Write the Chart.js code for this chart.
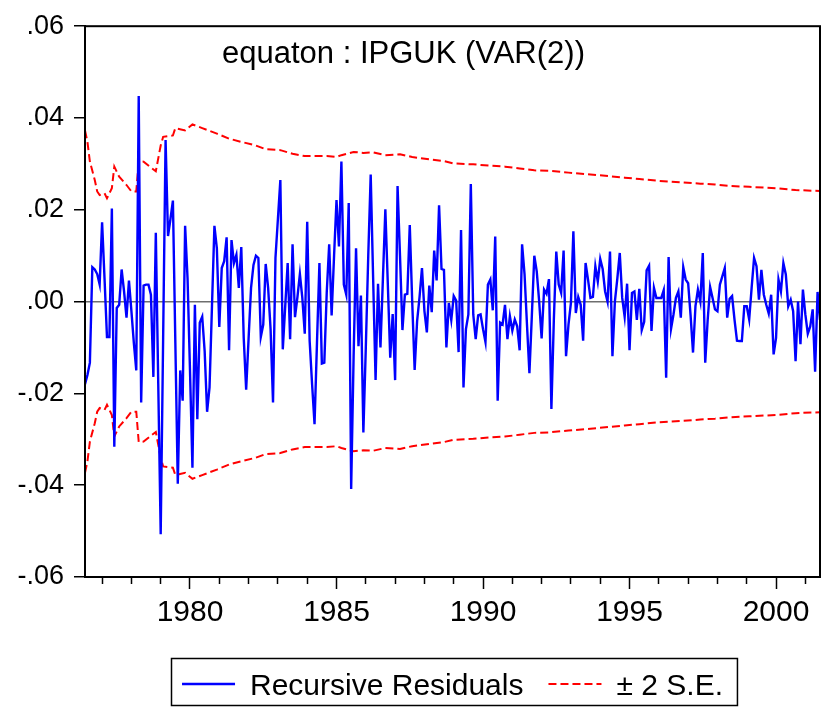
<!DOCTYPE html>
<html>
<head>
<meta charset="utf-8">
<script src="https://cdn.jsdelivr.net/npm/chart.js@4.4.0/dist/chart.umd.min.js"></script>
<style>
  html, body { margin: 0; padding: 0; background: #fff; }
</style>
</head>
<body>
<canvas id="resChart" width="822" height="707"></canvas>
<script>
const FONT = '"Liberation Sans", Arial, Helvetica, sans-serif'

const titleText = 'equaton : IPGUK (VAR(2))'
const startYear = 1976
const startMonth = 6

// recursive residuals, monthly from 1976M06
const residuals = [
  -0.018, -0.016, -0.0133, 0.0075, 0.007, 0.006, 0.0037, 0.0173, 0.005, -0.0077, -0.0077, 0.0203,
  -0.0316, -0.0014, -0.0007, 0.007, 0.0022, -0.0035, 0.0046, -0.002, -0.009, -0.015, 0.0448, -0.022,
  0.0035, 0.0037, 0.0037, 0.0015, -0.0164, 0.015, -0.018, -0.0507, -0.008, 0.0352, 0.0143, 0.018,
  0.022, -0.009, -0.0397, -0.015, -0.0216, 0.0165, 0.005, -0.015, -0.0362, -0.0007, -0.0256, -0.0046,
  -0.0033, -0.0108, -0.024, -0.0187, -0.001, 0.0165, 0.0116, -0.0055, 0.0073, 0.0088, 0.014, -0.0106,
  0.0134, 0.0084, 0.0102, 0.003, 0.0119, -0.0079, -0.0192, -0.008, 0.003, 0.008, 0.01, 0.0095,
  -0.0077, -0.005, 0.0082, 0.003, -0.006, -0.022, 0.0095, 0.018, 0.0265, -0.0104, -0.001, 0.0084,
  -0.0082, 0.0125, -0.0034, 0.001, 0.006, 0.0008, -0.007, 0.0174, -0.0086, -0.018, -0.0267, -0.009,
  0.0084, -0.0135, -0.0133, 0.002, 0.0125, -0.003, 0.01, 0.0221, 0.012, 0.0305, 0.0037, 0.0015,
  0.0215, -0.0408, -0.012, 0.0116, -0.0097, 0.0013, -0.0285, -0.01, 0.01, 0.0277, 0.005, -0.0171,
  0.0039, -0.01, 0.005, 0.0201, 0.004, -0.0122, -0.0027, -0.0171, 0.0252, 0.01, -0.0062, 0.0015,
  0.0017, 0.0167, 0.0, -0.0149, -0.0043, 0.001, 0.0073, -0.002, -0.0067, 0.0035, -0.0023, 0.0111,
  0.0046, 0.021, 0.0071, 0.0069, -0.01, -0.0003, -0.004, 0.0012, 0.0002, -0.011, 0.0156, -0.0187,
  -0.006, -0.0028, 0.0256, -0.0028, -0.0082, -0.003, -0.0028, -0.006, -0.0088, 0.0037, 0.0048, -0.0019,
  0.0142, -0.0216, -0.0046, -0.005, -0.0007, -0.0082, -0.0032, -0.0063, -0.0039, -0.0054, -0.0106, 0.0125,
  0.006, -0.005, -0.0156, -0.003, 0.01, 0.0066, 0.0, -0.008, 0.0026, 0.0017, 0.0049, -0.0234,
  -0.004, 0.0109, 0.0037, 0.0019, 0.0111, -0.0119, -0.005, -0.0003, 0.0153, -0.0025, 0.001, -0.0007,
  -0.0085, 0.0084, 0.0048, 0.0008, 0.001, 0.0077, 0.0044, 0.0093, 0.0071, 0.0022, 0.0, 0.0109,
  -0.0119, 0.0, 0.005, 0.0106, 0.0008, -0.0033, 0.0039, -0.0106, 0.0019, 0.0022, -0.004, 0.0028,
  -0.0062, -0.0044, 0.0068, 0.0078, -0.0064, 0.003, 0.0008, 0.0008, 0.0008, 0.0025, -0.0166, 0.0097,
  -0.0059, -0.0028, 0.0008, 0.0022, -0.0035, 0.0075, 0.0048, 0.004, -0.003, -0.0111, -0.001, 0.0026,
  0.0, 0.0106, -0.0133, -0.004, 0.0032, 0.0008, -0.0017, -0.0021, 0.0037, 0.0055, 0.0073, -0.0035,
  0.0006, 0.0012, -0.004, -0.0085, -0.0086, -0.0086, -0.001, -0.001, -0.0039, 0.003, 0.0095, 0.0077,
  0.0004, 0.0069, 0.0015, -0.0007, -0.0026, 0.0015, -0.0115, -0.0079, 0.0048, 0.0022, 0.0084, 0.0059,
  -0.001, 0.0004, -0.0021, -0.013, 0.0, -0.0093, 0.0026, -0.0028, -0.007, -0.0054, -0.0017, -0.0153,
  0.0021, -0.004,
]

// 2 S.E. band, read at these month offsets from the start
const seMonths = [
  0, 1, 2, 4, 5, 6, 8, 9, 11, 12, 14, 17, 19, 21, 22, 24, 27, 29, 31, 32, 36, 37, 41, 44, 48,
  54, 59, 64, 70, 74, 80, 85, 90, 99, 103, 105, 110, 114, 118, 123, 129, 134, 141, 147, 151,
  159, 166, 172, 178, 184, 190, 198, 207, 215, 221, 227, 235, 244, 252, 258, 264, 272, 283, 291, 301,
]
const seValues = [
  0.0373, 0.0348, 0.0305, 0.0265, 0.024, 0.0232, 0.0236, 0.0225, 0.0247, 0.0294, 0.0272, 0.0254,
  0.024, 0.024, 0.0306, 0.0305, 0.0292, 0.0284, 0.034, 0.0359, 0.0362, 0.0378, 0.0373, 0.0386, 0.0378,
  0.0366, 0.0355, 0.0348, 0.034, 0.0332, 0.033, 0.0322, 0.0317, 0.0317, 0.0315, 0.0319, 0.0326,
  0.0324, 0.0325, 0.0319, 0.0321, 0.0315, 0.031, 0.0306, 0.0301, 0.0299, 0.0296, 0.0294, 0.029,
  0.0286, 0.0285, 0.0281, 0.0277, 0.0273, 0.027, 0.0267, 0.0263, 0.026, 0.0257, 0.0255, 0.0252,
  0.025, 0.0247, 0.0243, 0.0241,
]

const xLabelYears = [1980, 1985, 1990, 1995, 2000]
const yLabels = ['-.06', '-.04', '-.02', '.00', '.02', '.04', '.06']

function monthX(i) {
  return startYear + (startMonth - 1 + i) / 12
}

function isLabelYear(v) {
  const r = Math.round(v)
  return Math.abs(v - r) < 1e-6 && xLabelYears.includes(r)
}

const frameAndText = {
  id: 'frameAndText',
  afterDatasetsDraw(chart) {
    const { ctx, chartArea: a } = chart
    ctx.save()
    ctx.strokeStyle = '#000'
    ctx.lineWidth = 2
    ctx.strokeRect(a.left, a.top, a.right - a.left, a.bottom - a.top)
    ctx.fillStyle = '#000'
    ctx.font = '31px ' + FONT
    ctx.textAlign = 'left'
    ctx.textBaseline = 'alphabetic'
    ctx.fillText(titleText, a.left + 137, a.top + 37)
    ctx.restore()
  },
  afterDraw(chart) {
    // boxed legend under the axis
    const { ctx, chartArea: a } = chart
    const items = chart.data.datasets.filter((d) => d.label)
    ctx.save()
    ctx.font = '30px ' + FONT
    const lineLen = 53
    const textGap = 15
    const itemGap = 25
    const widths = items.map((d) => ctx.measureText(d.label).width)
    let total = itemGap * (items.length - 1)
    widths.forEach((w) => (total += lineLen + textGap + w))
    let x = (a.left + a.right) / 2 - total / 2
    const lineY = chart.height - 23
    const baseY = chart.height - 12.5
    ctx.strokeStyle = '#000'
    ctx.lineWidth = 1.5
    ctx.strokeRect(Math.round(x - 11) + 0.5, chart.height - 48.5, total + 25, 47)
    items.forEach((d, k) => {
      ctx.beginPath()
      ctx.strokeStyle = d.borderColor
      ctx.lineWidth = d.borderWidth
      ctx.setLineDash(d.borderDash || [])
      ctx.moveTo(x, lineY)
      ctx.lineTo(x + lineLen, lineY)
      ctx.stroke()
      ctx.setLineDash([])
      ctx.fillStyle = '#000'
      ctx.textBaseline = 'alphabetic'
      ctx.fillText(d.label, x + lineLen + textGap, baseY)
      x += lineLen + textGap + widths[k] + itemGap
    })
    ctx.restore()
  },
}

new Chart(document.getElementById('resChart').getContext('2d'), {
  type: 'line',
  data: {
    datasets: [
      {
        label: 'Recursive Residuals',
        data: residuals.map((v, i) => ({ x: monthX(i), y: v })),
        borderColor: '#0000ff',
        borderWidth: 2.4,
        pointRadius: 0,
        fill: false,
      },
      {
        label: '\u00b1 2 S.E.',
        data: seMonths.map((m, k) => ({ x: monthX(m), y: seValues[k] })),
        borderColor: '#ff0000',
        borderWidth: 2,
        borderDash: [8, 4],
        pointRadius: 0,
        fill: false,
      },
      {
        label: '',
        data: seMonths.map((m, k) => ({ x: monthX(m), y: -seValues[k] })),
        borderColor: '#ff0000',
        borderWidth: 2,
        borderDash: [8, 4],
        pointRadius: 0,
        fill: false,
      },
    ],
  },
  options: {
    responsive: false,
    animation: false,
    layout: { padding: { top: 25, right: 2, bottom: 80, left: 0 } },
    plugins: {
      legend: { display: false },
      tooltip: { enabled: false },
    },
    elements: { line: { tension: 0 } },
    scales: {
      x: {
        type: 'linear',
        min: monthX(0),
        max: monthX(residuals.length - 1),
        afterFit: (s) => { s.height = 50 },
        border: { display: true, color: '#000', width: 2 },
        grid: {
          drawOnChartArea: false,
          tickLength: 12,
          tickColor: '#000',
          tickWidth: 1.5,
          tickBorderDash: (c) => (c.tick && isLabelYear(c.tick.value) ? [] : [6, 40]),
        },
        ticks: {
          stepSize: 1,
          includeBounds: false,
          autoSkip: false,
          maxRotation: 0,
          padding: 6,
          color: '#000',
          font: { family: FONT, size: 30 },
          callback: (v) => (isLabelYear(v) ? String(Math.round(v)) : ''),
        },
      },
      y: {
        min: -0.06,
        max: 0.06,
        afterFit: (s) => { s.width = 85 },
        border: { display: true, color: '#000', width: 2 },
        grid: {
          color: (c) => (c.tick && Math.abs(c.tick.value) < 1e-9 ? '#6e6e6e' : 'rgba(0,0,0,0)'),
          lineWidth: 1.5,
          tickLength: 11,
          tickColor: '#000',
          tickWidth: 1.5,
        },
        ticks: {
          stepSize: 0.02,
          padding: 10,
          color: '#000',
          font: { family: FONT, size: 27 },
          callback: (v, i) => yLabels[i],
        },
      },
    },
  },
  plugins: [frameAndText],
})
</script>
</body>
</html>
